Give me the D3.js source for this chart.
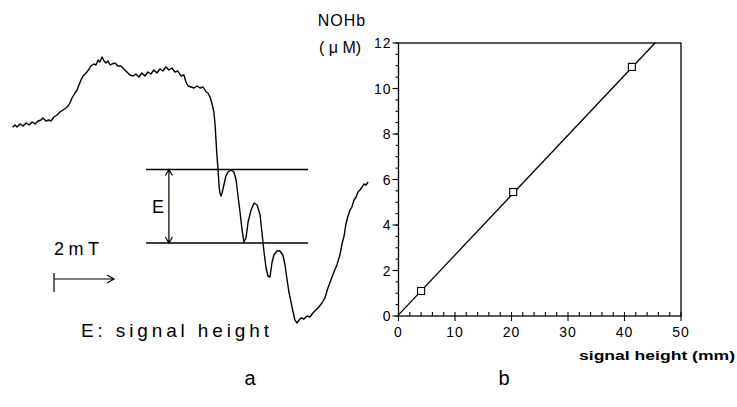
<!DOCTYPE html>
<html>
<head>
<meta charset="utf-8">
<script src="https://cdn.jsdelivr.net/npm/d3@7"></script>
<style>
  body { margin: 0; background: #fff; }
  svg { display: block; font-family: "Liberation Sans", Arial, sans-serif; }
</style>
</head>
<body>
<svg id="chart" width="737" height="407"></svg>
<script>
// ---- panel a: ESR spectrum (field in mT, intensity in arbitrary units) ----
const esrField = [0.02,0.1,0.17,0.27,0.37,0.47,0.57,0.67,0.77,0.87,0.97,1.03,1.13,1.23,1.3,1.4,1.5,1.6,1.7,1.8,
  1.87,1.93,2.0,2.1,2.17,2.23,2.3,2.37,2.47,2.57,2.63,2.73,2.8,2.87,2.93,3.0,3.07,3.13,3.2,3.27,
  3.33,3.43,3.53,3.63,3.73,3.83,3.93,4.03,4.13,4.23,4.33,4.43,4.53,4.63,4.73,4.83,4.93,5.03,5.13,5.23,
  5.33,5.43,5.53,5.63,5.73,5.8,5.87,5.97,6.07,6.17,6.27,6.37,6.47,6.53,6.6,6.67,6.73,6.77,6.8,6.83,
  6.87,6.9,6.93,6.97,7.0,7.07,7.13,7.2,7.3,7.4,7.47,7.53,7.6,7.67,7.73,7.8,7.87,7.97,8.07,8.17,
  8.27,8.33,8.4,8.47,8.53,8.6,8.67,8.73,8.83,8.93,9.03,9.1,9.17,9.23,9.3,9.37,9.43,9.5,9.57,9.63,
  9.73,9.83,9.93,10.03,10.13,10.23,10.33,10.43,10.53,10.63,10.73,10.83,10.93,11.0,11.07,11.13,11.2,11.27,11.33,11.4,
  11.47,11.53,11.6,11.67,11.73,11.8,11.87];
const esrIntensity = [62.7,65,63,66,64,67,65,68,66,69,70,72,69,70,69,73,75,78,80,82,
  84,87,92,97,100,105,110,114,117,121,124,126,125,130,128,133,129,127,129,125,
  126,127,124,124,121,118,115,114,116,113,117,114,118,116,120,117,121,119,123,120,
  122,118,119,114,115,108,104,103,102,104,102,103,98,97,93,86,78,65,50,35,
  20,5,-3,-6,-3,6,14,18,20,18,10,-5,-22,-40,-52,-48,-32,-20,-13,-15,
  -25,-42,-62,-78,-86,-87,-72,-65,-61,-61,-65,-75,-90,-102,-112,-122,-130,-133,-130,-128,
  -129,-126,-127,-123,-120,-117,-113,-108,-98,-90,-82,-75,-65,-54,-46,-34,-26,-20,-17,-10,
  -7,-2,0,3,6,5,8];
// signal height E: the two levels and the field span of the guide lines
const eLevels = [20.5, -53];
const eSpan = [4.47, 9.87];
const eArrowField = 5.23;
// 2 mT scale bar
const scaleBar = [1.4, 3.4];
const scaleBarLevel = -89;

// ---- panel b: calibration ----
const signalHeight = [4, 20.3, 41.3];     // mm
const nohb = [1.1, 5.45, 10.95];           // uM
const fitLine = [[0, 0.05], [45.4, 12]];   // regression line end points
const xTicks = [0, 10, 20, 30, 40, 50];
const yTicks = [0, 2, 4, 6, 8, 10, 12];

const svg = d3.select('#chart');

// scales for panel a
const xEsr = d3.scaleLinear().domain([0, 12]).range([12, 372]);
const yEsr = d3.scaleLinear().domain([-140, 140]).range([330, 50]);

const esrData = esrField.map((f, i) => [f, esrIntensity[i]]);
svg.append('path')
    .datum(esrData)
    .attr('fill', 'none')
    .attr('stroke', '#000')
    .attr('stroke-width', 1.4)
    .attr('stroke-linejoin', 'round')
    .attr('d', d3.line().x(d => xEsr(d[0])).y(d => yEsr(d[1])));

// E guide lines
svg.selectAll('line.eline')
    .data(eLevels)
    .enter()
    .append('line')
    .attr('x1', xEsr(eSpan[0]))
    .attr('x2', xEsr(eSpan[1]))
    .attr('y1', d => yEsr(d))
    .attr('y2', d => yEsr(d))
    .attr('stroke', '#000')
    .attr('stroke-width', 1.4);

// double arrow
const ax = xEsr(eArrowField);
const aTop = yEsr(eLevels[0]), aBot = yEsr(eLevels[1]);
svg.append('path')
    .attr('fill', 'none')
    .attr('stroke', '#000')
    .attr('stroke-width', 1.2)
    .attr('d', `M${ax},${aTop}V${aBot}M${ax - 3.5},${aTop + 6}L${ax},${aTop}L${ax + 3.5},${aTop + 6}` +
        `M${ax - 3.5},${aBot - 6}L${ax},${aBot}L${ax + 3.5},${aBot - 6}`);

svg.append('text')
    .attr('x', ax - 5)
    .attr('y', (aTop + aBot) / 2 + 7)
    .attr('text-anchor', 'end')
    .attr('font-size', 18)
    .text('E');

// 2 mT scale bar
const sx0 = xEsr(scaleBar[0]), sx1 = xEsr(scaleBar[1]), sy = yEsr(scaleBarLevel);
svg.append('path')
    .attr('fill', 'none')
    .attr('stroke', '#000')
    .attr('stroke-width', 1.2)
    .attr('d', `M${sx0},${sy - 6}V${sy + 13}M${sx0},${sy}H${sx1}M${sx1 - 7},${sy - 4}L${sx1},${sy}L${sx1 - 7},${sy + 4}`);

svg.append('text')
    .attr('x', sx0)
    .attr('y', sy - 24)
    .attr('font-size', 18)
    .attr('textLength', 45)
    .attr('lengthAdjust', 'spacing')
    .text('2mT');

svg.append('text')
    .attr('x', 81)
    .attr('y', 337)
    .attr('font-size', 19)
    .attr('textLength', 188)
    .attr('lengthAdjust', 'spacing')
    .text('E: signal height');

// ---- panel b ----
const x = d3.scaleLinear().domain([0, 50]).range([398.5, 681]);
const y = d3.scaleLinear().domain([0, 12]).range([316, 43]);

const plot = svg.append('g').attr('stroke', '#000').attr('fill', 'none');

// frame
plot.append('rect')
    .attr('x', x(0))
    .attr('y', y(12))
    .attr('width', x(50) - x(0))
    .attr('height', y(0) - y(12))
    .attr('stroke-width', 1.3);

// x axis ticks: minor up, major down
plot.selectAll('line.xminor')
    .data(d3.range(0, 51, 2))
    .enter()
    .append('line')
    .attr('x1', d => x(d)).attr('x2', d => x(d))
    .attr('y1', y(0)).attr('y2', y(0) - 4)
    .attr('stroke-width', 1.1);
plot.selectAll('line.xmajor')
    .data(xTicks)
    .enter()
    .append('line')
    .attr('x1', d => x(d)).attr('x2', d => x(d))
    .attr('y1', y(0)).attr('y2', y(0) + 5)
    .attr('stroke-width', 1.1);

// y axis ticks: outward
plot.selectAll('line.yminor')
    .data(d3.range(0, 12.01, 0.5))
    .enter()
    .append('line')
    .attr('x1', x(0)).attr('x2', x(0) - 3)
    .attr('y1', d => y(d)).attr('y2', d => y(d))
    .attr('stroke-width', 1.1);
plot.selectAll('line.ymajor')
    .data(yTicks)
    .enter()
    .append('line')
    .attr('x1', x(0)).attr('x2', x(0) - 6)
    .attr('y1', d => y(d)).attr('y2', d => y(d))
    .attr('stroke-width', 1.1);

svg.selectAll('text.xlab')
    .data(xTicks)
    .enter()
    .append('text')
    .attr('x', d => x(d))
    .attr('y', y(0) + 21)
    .attr('text-anchor', 'middle')
    .attr('font-size', 14)
    .attr('letter-spacing', 1)
    .text(d => d);

svg.selectAll('text.ylab')
    .data(yTicks)
    .enter()
    .append('text')
    .attr('x', x(0) - 7)
    .attr('y', d => y(d) + 5)
    .attr('text-anchor', 'end')
    .attr('font-size', 14)
    .attr('letter-spacing', 1)
    .text(d => d);

// fit line
plot.append('line')
    .attr('x1', x(fitLine[0][0])).attr('y1', y(fitLine[0][1]))
    .attr('x2', x(fitLine[1][0])).attr('y2', y(fitLine[1][1]))
    .attr('stroke-width', 1.3);

// data squares
plot.selectAll('rect.pt')
    .data(signalHeight.map((d, i) => [d, nohb[i]]))
    .enter()
    .append('rect')
    .attr('x', d => x(d[0]) - 3.5)
    .attr('y', d => y(d[1]) - 3.5)
    .attr('width', 7)
    .attr('height', 7)
    .attr('fill', '#fff')
    .attr('stroke-width', 1.1);

// axis titles
svg.append('text')
    .attr('x', 342).attr('y', 26)
    .attr('text-anchor', 'middle')
    .attr('font-size', 16)
    .attr('letter-spacing', 1)
    .text('NOHb');
svg.append('text')
    .attr('x', 340).attr('y', 53)
    .attr('text-anchor', 'middle')
    .attr('font-size', 16)
    .text('( μ M)');
svg.append('text')
    .attr('x', 735).attr('y', 360)
    .attr('text-anchor', 'end')
    .attr('font-size', 12)
    .attr('font-weight', 'bold')
    .attr('textLength', 156)
    .attr('lengthAdjust', 'spacingAndGlyphs')
    .text('signal height (mm)');

// panel letters
svg.append('text')
    .attr('x', 250).attr('y', 385)
    .attr('text-anchor', 'middle')
    .attr('font-size', 20)
    .text('a');
svg.append('text')
    .attr('x', 504).attr('y', 385)
    .attr('text-anchor', 'middle')
    .attr('font-size', 20)
    .text('b');
</script>
</body>
</html>
